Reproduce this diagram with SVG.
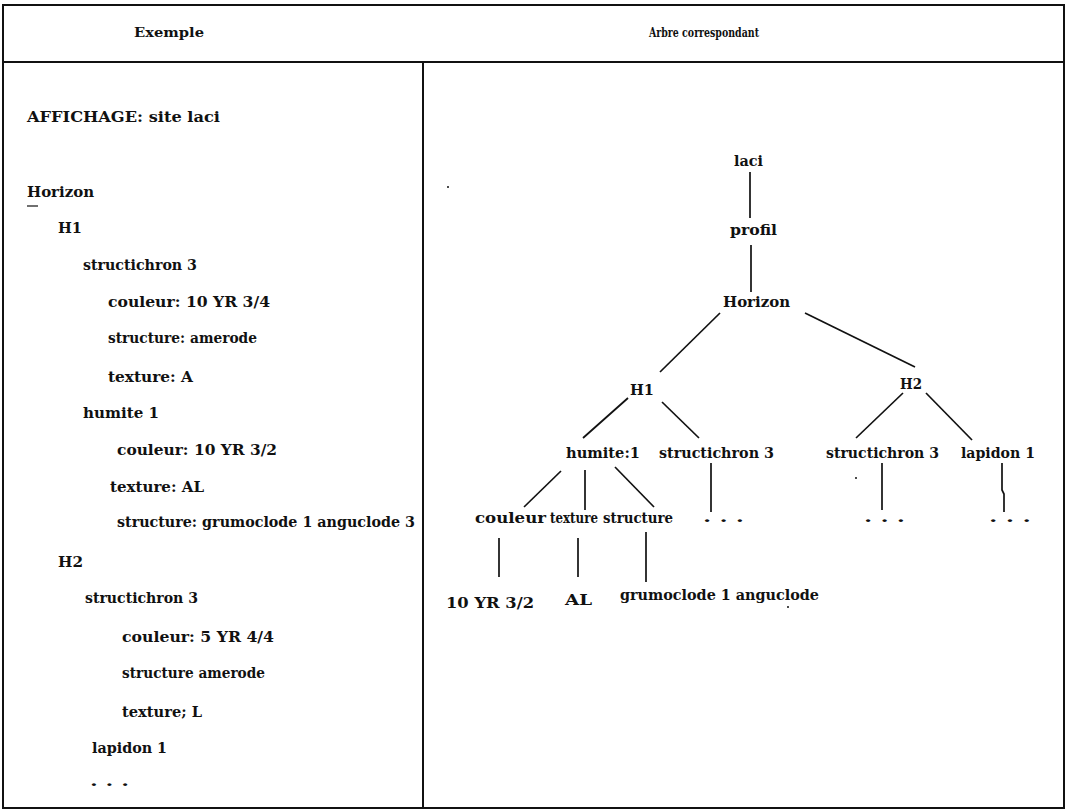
<svg xmlns="http://www.w3.org/2000/svg" width="1070" height="810" viewBox="0 0 1070 810">
<style>
.t{font-family:"DejaVu Serif","Liberation Serif",serif;font-weight:bold;font-size:14.5px;fill:#111}
.h{font-family:"DejaVu Serif","Liberation Serif",serif;font-weight:bold;font-size:13px;fill:#111}
.frame{fill:none;stroke:#111;stroke-width:2}
.c{stroke:#111;stroke-width:1.7;fill:none}
</style>
<rect width="1070" height="810" fill="#fff"/>
<g id="frame">
<rect class="frame" x="3" y="5" width="1061" height="803"/>
<line class="frame" x1="3" y1="62" x2="1064" y2="62"/>
<line class="frame" x1="423" y1="62" x2="423" y2="808"/>
</g>
<g id="headers">
<text class="h" x="134" y="37" textLength="70" lengthAdjust="spacingAndGlyphs">Exemple</text>
<text class="h" x="649" y="37" textLength="110" lengthAdjust="spacingAndGlyphs">Arbre correspondant</text>
</g>
<g id="example">
<text class="t" x="27" y="122" textLength="193" lengthAdjust="spacingAndGlyphs">AFFICHAGE: site laci</text>
<text class="t" x="27" y="197" textLength="67" lengthAdjust="spacingAndGlyphs">Horizon</text>
<line x1="27" y1="206" x2="38" y2="206" stroke="#111" stroke-width="1.2"/>
<text class="t" x="58" y="233" textLength="24" lengthAdjust="spacingAndGlyphs">H1</text>
<text class="t" x="83" y="270" textLength="114" lengthAdjust="spacingAndGlyphs">structichron 3</text>
<text class="t" x="108" y="307" textLength="162" lengthAdjust="spacingAndGlyphs">couleur: 10 YR 3/4</text>
<text class="t" x="108" y="343" textLength="149" lengthAdjust="spacingAndGlyphs">structure: amerode</text>
<text class="t" x="108" y="382" textLength="85" lengthAdjust="spacingAndGlyphs">texture: A</text>
<text class="t" x="83" y="418" textLength="76" lengthAdjust="spacingAndGlyphs">humite 1</text>
<text class="t" x="117" y="455" textLength="160" lengthAdjust="spacingAndGlyphs">couleur: 10 YR 3/2</text>
<text class="t" x="110" y="492" textLength="94" lengthAdjust="spacingAndGlyphs">texture: AL</text>
<text class="t" x="117" y="527" textLength="298" lengthAdjust="spacingAndGlyphs">structure: grumoclode 1 anguclode 3</text>
<text class="t" x="58" y="567" textLength="25" lengthAdjust="spacingAndGlyphs">H2</text>
<text class="t" x="85" y="603" textLength="113" lengthAdjust="spacingAndGlyphs">structichron 3</text>
<text class="t" x="122" y="642" textLength="152" lengthAdjust="spacingAndGlyphs">couleur: 5 YR 4/4</text>
<text class="t" x="122" y="678" textLength="143" lengthAdjust="spacingAndGlyphs">structure amerode</text>
<text class="t" x="122" y="717" textLength="80" lengthAdjust="spacingAndGlyphs">texture; L</text>
<text class="t" x="92" y="753" textLength="75" lengthAdjust="spacingAndGlyphs">lapidon 1</text>
<text class="t" x="90" y="786" textLength="39" lengthAdjust="spacingAndGlyphs">. . .</text>
</g>
<g id="connectors">
<line class="c" x1="750" y1="172" x2="750" y2="218"/>
<line class="c" x1="751" y1="245" x2="751" y2="292"/>
<line class="c" x1="720" y1="313" x2="660" y2="372"/>
<line class="c" x1="805" y1="313" x2="915" y2="367"/>
<line class="c" x1="628" y1="398" x2="583" y2="438"/>
<line class="c" x1="662" y1="402" x2="699" y2="438"/>
<line class="c" x1="903" y1="393" x2="856" y2="438"/>
<line class="c" x1="926" y1="393" x2="972" y2="440"/>
<line class="c" x1="561" y1="471" x2="524" y2="507"/>
<line class="c" x1="585" y1="470" x2="585" y2="510"/>
<line class="c" x1="615" y1="467" x2="654" y2="507"/>
<line class="c" x1="711" y1="463" x2="711" y2="512"/>
<line class="c" x1="882" y1="463" x2="882" y2="510"/>
<polyline class="c" points="1002,463 1002,490 1004,494 1004,512"/>
<line class="c" x1="499" y1="538" x2="499" y2="577"/>
<line class="c" x1="578" y1="538" x2="578" y2="577"/>
<line class="c" x1="646" y1="532" x2="646" y2="582"/>
</g>
<g id="n-laci"><text class="t" x="734" y="166" textLength="29" lengthAdjust="spacingAndGlyphs">laci</text></g>
<g id="n-profil"><text class="t" x="730" y="235" textLength="47" lengthAdjust="spacingAndGlyphs">profil</text></g>
<g id="n-horizon"><text class="t" x="723" y="307" textLength="67" lengthAdjust="spacingAndGlyphs">Horizon</text></g>
<g id="n-h1"><text class="t" x="630" y="395" textLength="24" lengthAdjust="spacingAndGlyphs">H1</text></g>
<g id="n-h2"><text class="t" x="900" y="389" textLength="22" lengthAdjust="spacingAndGlyphs">H2</text></g>
<g id="n-humite"><text class="t" x="566" y="458" textLength="74" lengthAdjust="spacingAndGlyphs">humite:1</text></g>
<g id="n-struct1"><text class="t" x="659" y="458" textLength="115" lengthAdjust="spacingAndGlyphs">structichron 3</text></g>
<g id="n-struct2"><text class="t" x="826" y="458" textLength="113" lengthAdjust="spacingAndGlyphs">structichron 3</text></g>
<g id="n-lapidon"><text class="t" x="961" y="458" textLength="74" lengthAdjust="spacingAndGlyphs">lapidon 1</text></g>
<g id="n-couleur"><text class="t" x="475" y="523" textLength="71" lengthAdjust="spacingAndGlyphs">couleur</text></g>
<g id="n-texture"><text class="t" x="550" y="523" textLength="48" lengthAdjust="spacingAndGlyphs">texture</text></g>
<g id="n-structure"><text class="t" x="603" y="523" textLength="70" lengthAdjust="spacingAndGlyphs">structure</text></g>
<g id="n-dots1"><text class="t" x="703" y="522" textLength="41" lengthAdjust="spacingAndGlyphs">. . .</text></g>
<g id="n-dots2"><text class="t" x="864" y="522" textLength="41" lengthAdjust="spacingAndGlyphs">. . .</text></g>
<g id="n-dots3"><text class="t" x="989" y="522" textLength="42" lengthAdjust="spacingAndGlyphs">. . .</text></g>
<g id="n-10yr"><text class="t" x="446" y="608" textLength="88" lengthAdjust="spacingAndGlyphs">10 YR 3/2</text></g>
<g id="n-al"><text class="t" x="565" y="605" textLength="27" lengthAdjust="spacingAndGlyphs">AL</text></g>
<g id="n-grumo"><text class="t" x="620" y="600" textLength="199" lengthAdjust="spacingAndGlyphs">grumoclode 1 anguclode</text></g>
<g id="specks" fill="#111">
<circle cx="448" cy="187" r="1"/>
<circle cx="856" cy="478" r="1"/>
<circle cx="788" cy="607" r="1"/>
</g>
</svg>
